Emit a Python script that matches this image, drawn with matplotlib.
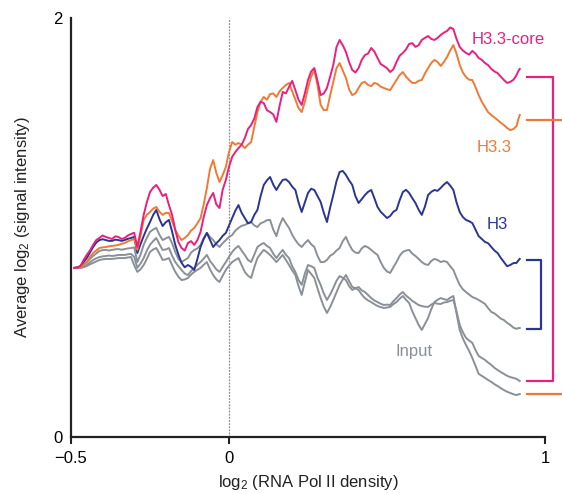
import matplotlib
matplotlib.use("Agg")
import matplotlib.pyplot as plt

plt.rcParams['font.family'] = ['Liberation Sans', 'DejaVu Sans']
plt.rcParams['mathtext.fontset'] = 'custom'
plt.rcParams['mathtext.rm'] = 'Liberation Sans'
plt.rcParams['mathtext.it'] = 'Liberation Sans'

# x positions: log2 (RNA Pol II density)
x = [round(-0.49 + 0.01 * k, 3) for k in range(141)] + [0.915, 0.92]

h33core = [0.807, 0.808, 0.816, 0.845, 0.869, 0.890, 0.917, 0.940, 0.950, 0.962,
           0.955, 0.950, 0.945, 0.958, 0.955, 0.945, 0.950, 0.962, 0.969, 0.975,
           0.907, 0.980, 1.060, 1.120, 1.169, 1.190, 1.203, 1.180, 1.150, 1.160,
           1.107, 1.060, 0.988, 0.930, 0.902, 0.890, 0.926, 0.935, 0.917, 0.940,
           0.979, 1.050, 1.107, 1.140, 1.165, 1.110, 1.093, 1.180, 1.227, 1.290,
           1.337, 1.360, 1.379, 1.395, 1.427, 1.470, 1.489, 1.520, 1.575, 1.600,
           1.594, 1.560, 1.551, 1.540, 1.504, 1.580, 1.647, 1.640, 1.671, 1.700,
           1.656, 1.610, 1.585, 1.640, 1.704, 1.745, 1.761, 1.700, 1.632, 1.640,
           1.666, 1.720, 1.776, 1.860, 1.895, 1.870, 1.838, 1.790, 1.752, 1.740,
           1.761, 1.800, 1.823, 1.830, 1.857, 1.840, 1.809, 1.780, 1.771, 1.760,
           1.742, 1.755, 1.790, 1.820, 1.833, 1.850, 1.876, 1.880, 1.862, 1.870,
           1.895, 1.905, 1.914, 1.900, 1.895, 1.905, 1.919, 1.930, 1.938, 1.955,
           1.947, 1.900, 1.862, 1.845, 1.833, 1.825, 1.843, 1.830, 1.809, 1.800,
           1.785, 1.775, 1.757, 1.745, 1.737, 1.720, 1.704, 1.690, 1.695, 1.705,
           1.728, 1.745, 1.757]

h33 = [0.807, 0.808, 0.811, 0.820, 0.835, 0.860, 0.878, 0.890, 0.902, 0.905,
       0.907, 0.910, 0.912, 0.914, 0.917, 0.922, 0.926, 0.934, 0.940, 0.945,
       0.893, 0.960, 1.036, 1.060, 1.074, 1.090, 1.098, 1.075, 1.060, 1.070,
       1.069, 1.030, 0.988, 0.960, 0.940, 0.950, 0.964, 0.985, 0.998, 1.020,
       1.045, 1.110, 1.189, 1.280, 1.322, 1.260, 1.217, 1.250, 1.289, 1.360,
       1.408, 1.395, 1.403, 1.395, 1.379, 1.395, 1.408, 1.480, 1.551, 1.600,
       1.623, 1.610, 1.637, 1.640, 1.623, 1.650, 1.666, 1.680, 1.690, 1.650,
       1.609, 1.570, 1.551, 1.600, 1.666, 1.720, 1.752, 1.680, 1.585, 1.560,
       1.561, 1.630, 1.695, 1.760, 1.785, 1.750, 1.714, 1.660, 1.632, 1.640,
       1.666, 1.690, 1.695, 1.680, 1.675, 1.690, 1.685, 1.672, 1.666, 1.660,
       1.656, 1.680, 1.704, 1.728, 1.742, 1.720, 1.704, 1.690, 1.690, 1.700,
       1.704, 1.735, 1.761, 1.785, 1.800, 1.790, 1.771, 1.790, 1.814, 1.845,
       1.871, 1.830, 1.776, 1.740, 1.718, 1.705, 1.704, 1.670, 1.632, 1.600,
       1.575, 1.550, 1.537, 1.525, 1.513, 1.500, 1.489, 1.475, 1.465, 1.470,
       1.484, 1.515, 1.537]

h3 = [0.807, 0.810, 0.816, 0.835, 0.854, 0.880, 0.907, 0.928, 0.940, 0.944,
      0.940, 0.936, 0.936, 0.942, 0.940, 0.936, 0.940, 0.946, 0.950, 0.955,
      0.878, 0.920, 0.959, 0.995, 1.026, 1.060, 1.084, 1.040, 1.007, 1.025,
      1.036, 0.980, 0.917, 0.870, 0.831, 0.810, 0.821, 0.812, 0.797, 0.850,
      0.907, 0.945, 0.974, 0.940, 0.907, 0.925, 0.940, 0.960, 0.974, 1.010,
      1.045, 1.080, 1.107, 1.070, 1.045, 1.020, 1.026, 1.060, 1.084, 1.150,
      1.203, 1.225, 1.241, 1.205, 1.179, 1.205, 1.227, 1.230, 1.217, 1.195,
      1.179, 1.120, 1.074, 1.120, 1.165, 1.185, 1.179, 1.150, 1.122, 1.070,
      1.026, 1.095, 1.155, 1.220, 1.265, 1.270, 1.251, 1.225, 1.203, 1.150,
      1.117, 1.135, 1.155, 1.170, 1.179, 1.140, 1.098, 1.075, 1.060, 1.045,
      1.055, 1.075, 1.084, 1.130, 1.169, 1.180, 1.165, 1.140, 1.117, 1.085,
      1.060, 1.100, 1.155, 1.170, 1.179, 1.175, 1.189, 1.205, 1.217, 1.200,
      1.179, 1.120, 1.074, 1.050, 1.036, 1.030, 1.021, 0.990, 0.959, 0.945,
      0.931, 0.925, 0.907, 0.890, 0.878, 0.855, 0.835, 0.815, 0.821, 0.830,
      0.831, 0.842, 0.850]

input1 = [0.807, 0.808, 0.811, 0.822, 0.835, 0.850, 0.864, 0.876, 0.888, 0.892,
          0.893, 0.890, 0.893, 0.896, 0.897, 0.894, 0.897, 0.900, 0.902, 0.905,
          0.835, 0.870, 0.917, 0.950, 0.979, 0.990, 0.998, 0.965, 0.940, 0.948,
          0.955, 0.925, 0.883, 0.850, 0.835, 0.845, 0.854, 0.880, 0.893, 0.900,
          0.917, 0.950, 0.974, 0.955, 0.940, 0.920, 0.907, 0.925, 0.940, 0.955,
          0.964, 0.985, 0.998, 1.008, 1.012, 1.020, 1.026, 1.010, 1.002, 1.020,
          1.026, 1.035, 1.036, 0.990, 0.959, 1.010, 1.045, 1.020, 0.998, 0.965,
          0.940, 0.920, 0.907, 0.925, 0.940, 0.920, 0.907, 0.865, 0.835, 0.835,
          0.845, 0.865, 0.874, 0.890, 0.902, 0.935, 0.955, 0.920, 0.893, 0.880,
          0.878, 0.900, 0.912, 0.905, 0.893, 0.880, 0.869, 0.835, 0.807, 0.790,
          0.783, 0.810, 0.835, 0.865, 0.883, 0.890, 0.893, 0.875, 0.864, 0.850,
          0.835, 0.825, 0.821, 0.840, 0.850, 0.845, 0.835, 0.840, 0.835, 0.815,
          0.797, 0.760, 0.726, 0.705, 0.692, 0.680, 0.668, 0.662, 0.654, 0.645,
          0.635, 0.615, 0.597, 0.590, 0.578, 0.565, 0.558, 0.545, 0.535, 0.522,
          0.516, 0.520, 0.520]

input2 = [0.807, 0.807, 0.807, 0.812, 0.821, 0.834, 0.845, 0.853, 0.859, 0.862,
          0.864, 0.866, 0.864, 0.866, 0.869, 0.869, 0.869, 0.872, 0.874, 0.860,
          0.807, 0.828, 0.854, 0.890, 0.917, 0.935, 0.950, 0.920, 0.893, 0.895,
          0.902, 0.865, 0.835, 0.815, 0.797, 0.780, 0.773, 0.792, 0.807, 0.822,
          0.835, 0.852, 0.869, 0.840, 0.821, 0.800, 0.788, 0.812, 0.835, 0.860,
          0.883, 0.900, 0.912, 0.890, 0.869, 0.845, 0.835, 0.870, 0.907, 0.918,
          0.926, 0.912, 0.902, 0.875, 0.854, 0.875, 0.893, 0.870, 0.854, 0.815,
          0.788, 0.750, 0.726, 0.780, 0.821, 0.815, 0.807, 0.760, 0.726, 0.685,
          0.654, 0.680, 0.711, 0.745, 0.768, 0.760, 0.749, 0.720, 0.702, 0.710,
          0.716, 0.700, 0.692, 0.678, 0.663, 0.652, 0.644, 0.636, 0.630, 0.632,
          0.630, 0.648, 0.663, 0.680, 0.692, 0.675, 0.663, 0.650, 0.640, 0.630,
          0.625, 0.622, 0.621, 0.632, 0.640, 0.636, 0.635, 0.642, 0.644, 0.650,
          0.654, 0.600, 0.535, 0.500, 0.473, 0.460, 0.449, 0.415, 0.387, 0.377,
          0.368, 0.355, 0.344, 0.330, 0.320, 0.310, 0.301, 0.292, 0.286, 0.282,
          0.277, 0.272, 0.267]

input3 = [0.807, 0.807, 0.807, 0.811, 0.816, 0.824, 0.831, 0.838, 0.845, 0.848,
          0.850, 0.850, 0.850, 0.852, 0.854, 0.854, 0.854, 0.857, 0.859, 0.820,
          0.788, 0.800, 0.821, 0.850, 0.883, 0.895, 0.902, 0.875, 0.845, 0.848,
          0.854, 0.820, 0.788, 0.765, 0.749, 0.752, 0.759, 0.775, 0.788, 0.798,
          0.807, 0.822, 0.835, 0.800, 0.773, 0.752, 0.740, 0.770, 0.797, 0.818,
          0.835, 0.845, 0.854, 0.820, 0.788, 0.770, 0.759, 0.810, 0.854, 0.875,
          0.893, 0.882, 0.869, 0.852, 0.835, 0.852, 0.869, 0.845, 0.821, 0.795,
          0.773, 0.720, 0.678, 0.740, 0.797, 0.778, 0.759, 0.710, 0.663, 0.622,
          0.592, 0.620, 0.654, 0.690, 0.726, 0.752, 0.773, 0.745, 0.716, 0.710,
          0.702, 0.680, 0.663, 0.652, 0.644, 0.634, 0.625, 0.620, 0.616, 0.618,
          0.621, 0.634, 0.644, 0.660, 0.673, 0.655, 0.640, 0.600, 0.568, 0.535,
          0.511, 0.540, 0.568, 0.610, 0.644, 0.655, 0.663, 0.658, 0.654, 0.665,
          0.673, 0.590, 0.511, 0.470, 0.439, 0.410, 0.377, 0.340, 0.301, 0.292,
          0.282, 0.272, 0.263, 0.252, 0.243, 0.233, 0.224, 0.216, 0.210, 0.204,
          0.200, 0.203, 0.205]

C_MAG = '#EA1F7E'
C_ORA = '#F07A35'
C_NAV = '#2B3592'
C_GRY = '#8A9097'

fig = plt.figure(figsize=(5.62, 4.93), dpi=100)
ax = fig.add_axes([0.1263, 0.1136, 0.9698 - 0.1263, 0.9635 - 0.1136])

ax.axvline(0, color='#8a8f96', lw=0.9, ls=(0, (1.5, 1.0)), zorder=1)

lw = 1.4
for yv in (input3, input2, input1):
    ax.plot(x, yv, color=C_GRY, lw=lw, zorder=2)
ax.plot(x, h3, color=C_NAV, lw=lw, zorder=3)
ax.plot(x, h33, color=C_ORA, lw=lw, zorder=4)
ax.plot(x, h33core, color=C_MAG, lw=lw, zorder=5)

ax.set_xlim(-0.5, 1)
ax.set_ylim(0, 2)
ax.set_xticks([-0.5, 0, 1])
ax.set_xticklabels(['\u22120.5', '0', '1'])
ax.set_yticks([0, 2])
ax.set_yticklabels(['0', '2'])
ax.tick_params(axis='x', direction='out', length=5, width=1.5, labelsize=12, pad=5, color='#222222')
ax.tick_params(axis='y', direction='out', length=0, labelsize=12, pad=6)
for s in ('top', 'right'):
    ax.spines[s].set_visible(False)
for s in ('left', 'bottom'):
    ax.spines[s].set_linewidth(1.6)
    ax.spines[s].set_color('#222222')

ax.set_xlabel('log$_2$ (RNA Pol II density)', fontsize=12, labelpad=5, color='#222222')
ax.set_ylabel('Average log$_2$ (signal intensity)', fontsize=12, labelpad=15, color='#222222')

# series labels
ax.text(0.768, 1.895, 'H3.3-core', color=C_MAG, fontsize=12, va='center', ha='left')
ax.text(0.784, 1.38, 'H3.3', color=C_ORA, fontsize=12, va='center', ha='left')
ax.text(0.816, 1.012, 'H3', color=C_NAV, fontsize=12, va='center', ha='left')
ax.text(0.527, 0.406, 'Input', color=C_GRY, fontsize=12, va='center', ha='left')

# comparison brackets on the right (from series end values)
x0 = 0.943
bw = 1.6
xm = 1.025
ax.plot([x0, xm, xm, x0], [h33core[-1] - 0.04, h33core[-1] - 0.04, input2[-1], input2[-1]],
        color=C_MAG, lw=bw, clip_on=False, zorder=6)
ax.plot([x0, 1.056], [h33[-1] - 0.025, h33[-1] - 0.025], color=C_ORA, lw=bw, clip_on=False, zorder=7)
ax.plot([x0, 1.05], [input3[-1], input3[-1]], color=C_ORA, lw=bw, clip_on=False, zorder=7)
xn = 0.987
ax.plot([x0, xn, xn, x0], [h3[-1] - 0.005, h3[-1] - 0.005, input1[-1] - 0.005, input1[-1] - 0.005],
        color=C_NAV, lw=bw, clip_on=False, zorder=6)

fig.savefig('out.png', dpi=100)
